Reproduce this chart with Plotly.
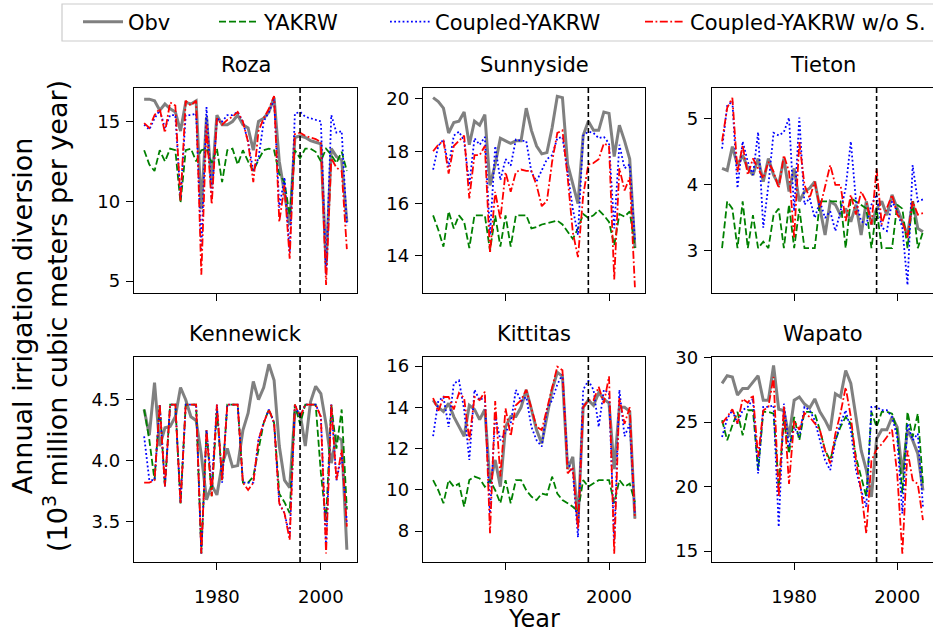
import plotly.graph_objects as go

# ---------------- data ----------------
YEARS = list(range(1966, 2006))
SPLIT_YEAR = 1996
SERIES_NAMES = ["Obv", "YAKRW", "Coupled-YAKRW", "Coupled-YAKRW w/o S."]
PANEL_NAMES = ["Roza", "Sunnyside", "Tieton", "Kennewick", "Kittitas", "Wapato"]

roza_obv = [16.4,16.4,16.3,15.7,16.1,15.8,15.6,14.4,16.2,16.1,16.3,9.5,15.3,11.0,15.4,14.8,14.8,15.0,15.4,14.8,
            14.6,13.2,15.0,15.2,15.6,16.5,12.5,10.5,8.5,14.0,14.1,14.0,13.8,13.7,13.6,6.0,13.3,12.8,12.6,8.7]
roza_yakrw = [13.2,12.3,11.9,13.2,12.5,13.3,13.2,9.9,13.2,13.3,12.5,13.2,13.3,12.4,13.3,11.2,13.2,13.3,12.3,13.2,
              12.5,11.9,12.6,13.2,13.3,13.2,11.7,11.2,9.1,13.2,12.7,13.3,13.3,13.1,12.5,13.3,12.9,12.4,13.1,11.9]
roza_coupled = [14.8,14.5,15.2,15.7,14.6,15.4,15.4,10.2,15.4,15.4,15.5,7.0,15.9,10.2,15.2,15.0,15.4,15.4,15.6,15.0,
                13.7,11.9,12.7,15.0,15.6,16.4,9.6,11.5,6.8,15.5,15.6,15.3,15.2,15.1,15.0,5.4,15.4,14.3,14.4,8.5]
roza_wos = [14.9,14.6,15.4,15.8,14.3,16.2,16.0,10.0,16.3,16.0,16.3,5.4,14.8,9.8,15.2,14.8,15.1,15.3,15.6,15.0,
            13.7,11.2,14.4,15.2,15.8,16.6,8.7,11.0,6.4,14.2,14.3,14.1,14.0,13.9,13.7,4.75,12.7,12.1,11.9,7.0]

sunny_obv = [20.05,19.9,19.65,18.7,19.1,19.15,19.5,18.25,19.15,19.0,19.4,16.7,17.5,18.5,18.4,18.3,18.4,18.4,19.65,18.8,
             18.2,17.9,17.95,18.9,20.1,20.05,17.5,16.8,16.0,18.6,19.15,18.8,18.8,19.5,19.45,17.8,19.0,18.4,17.7,14.3]
sunny_yakrw = [15.55,15.0,14.35,15.7,15.05,15.55,15.3,14.3,15.55,15.55,15.55,14.2,15.55,14.35,15.55,14.35,15.55,15.55,15.55,15.05,
               15.1,15.2,15.25,15.3,15.35,15.2,14.9,14.65,15.05,15.6,15.45,15.55,15.75,15.55,15.3,14.4,15.6,15.5,15.7,14.3]
sunny_coupled = [17.3,18.2,18.45,17.4,18.6,18.75,18.4,16.7,18.5,18.25,18.55,14.8,18.2,16.9,17.7,17.45,18.45,18.4,18.4,17.2,
                 16.85,17.3,17.7,17.85,18.5,18.55,17.2,15.8,14.8,18.6,18.75,18.7,18.5,18.55,18.3,15.05,18.25,17.35,17.5,14.6]
sunny_wos = [18.0,18.25,18.4,17.15,18.2,18.4,18.6,16.2,17.85,17.85,18.2,14.1,16.45,15.4,17.2,16.45,17.2,17.3,17.25,17.25,
             16.7,15.9,16.1,17.6,18.7,18.8,17.0,14.9,13.95,16.3,17.5,17.55,17.7,18.3,18.2,13.1,17.35,16.5,17.0,12.8]

tieton_obv = [4.25,4.22,4.58,4.3,4.45,4.25,4.15,4.4,4.05,4.4,4.15,4.0,4.4,3.9,4.25,3.75,3.9,3.95,4.05,3.64,
              3.24,3.75,3.7,3.54,3.64,3.44,3.7,3.24,3.75,3.4,3.64,3.75,3.54,3.85,3.64,3.44,3.24,3.75,3.34,3.29]
tieton_yakrw = [3.04,3.75,3.64,3.04,3.75,3.04,3.54,3.04,3.14,3.04,3.54,3.64,3.04,3.7,3.04,3.64,3.04,3.04,3.04,3.75,
                3.75,3.75,3.75,3.75,3.04,3.8,3.75,3.7,3.64,3.04,3.64,3.04,3.04,3.04,3.7,3.64,3.04,3.75,3.04,3.29]
tieton_coupled = [4.55,5.2,5.27,3.95,4.66,4.35,4.15,4.8,3.35,4.0,4.79,4.75,4.8,5.02,3.6,5.02,3.7,3.8,3.5,3.75,
                  3.5,3.6,3.3,3.6,3.95,4.66,3.75,3.45,3.4,3.7,3.85,3.35,3.3,3.75,3.6,3.35,2.48,4.3,3.75,3.78]
tieton_wos = [4.66,5.17,5.32,4.2,4.6,4.15,4.4,4.25,4.1,4.35,4.2,3.95,4.45,4.2,3.2,4.65,4.0,3.8,4.05,3.65,
              4.0,4.3,4.0,4.0,3.45,3.85,3.55,3.9,3.75,3.4,4.25,3.4,3.65,3.85,3.55,3.45,3.2,3.75,3.55,3.57]

kenne_obv = [4.42,4.21,4.64,4.12,4.27,4.28,4.36,4.6,4.5,4.36,4.33,4.05,3.68,3.8,3.72,3.97,4.1,3.95,3.96,4.25,
             4.39,4.65,4.5,4.6,4.79,4.66,4.12,3.84,3.78,4.4,4.39,4.12,4.48,4.61,4.55,4.3,3.98,4.2,4.17,3.27]
kenne_yakrw = [4.42,4.17,3.84,4.46,3.79,4.46,4.46,3.65,4.46,4.46,4.46,3.24,4.25,3.71,4.42,3.84,4.46,4.46,4.46,3.82,
               3.82,3.87,4.1,4.31,4.42,4.31,3.73,3.66,3.57,4.46,4.3,4.46,4.46,4.46,3.9,3.5,4.46,4.1,4.42,3.6]
kenne_coupled = [4.2,3.84,3.84,4.46,3.79,4.46,4.46,3.65,4.46,4.46,4.46,3.24,4.25,3.79,4.46,3.82,4.46,4.46,4.46,3.82,
                 3.82,3.82,4.17,4.31,4.42,4.31,3.65,3.57,3.38,4.46,4.36,4.46,4.46,4.46,4.36,3.3,4.46,3.84,4.05,3.5]
kenne_wos = [3.82,3.82,3.84,4.46,3.79,4.46,4.46,3.65,4.46,4.46,4.46,3.24,4.25,3.71,4.46,3.84,4.46,4.46,4.46,3.82,
             3.76,3.82,4.17,4.31,4.42,4.31,3.65,3.57,3.35,4.46,4.36,4.46,4.46,4.46,4.36,3.24,4.46,3.84,4.09,3.46]

kitt_obv = [14.35,14.0,13.8,14.2,13.55,13.05,12.6,14.1,13.9,13.4,13.9,10.3,11.45,10.15,13.05,13.55,13.55,14.0,14.85,13.9,
            12.9,12.25,13.55,14.85,15.7,15.5,11.0,11.6,8.4,14.0,14.35,14.1,14.7,14.4,14.2,11.0,14.0,14.0,13.8,8.6]
kitt_yakrw = [10.47,9.98,9.35,10.47,10.15,10.3,9.18,10.47,10.64,10.55,10.15,10.47,9.98,9.35,10.47,9.35,10.47,10.47,9.98,9.67,
              9.5,9.82,9.75,10.64,9.82,9.5,9.35,9.18,8.95,10.47,10.15,10.3,10.47,10.47,10.47,9.35,10.47,10.15,10.3,9.4]
kitt_coupled = [12.6,14.3,14.5,13.05,15.15,15.3,13.9,11.45,14.85,14.35,14.5,8.85,13.6,12.4,12.8,13.2,14.85,14.3,14.5,13.05,
                12.4,12.1,13.9,14.35,15.1,15.6,11.3,10.9,7.7,14.85,15.3,14.85,13.05,14.85,14.7,7.55,14.85,12.6,13.2,8.8]
kitt_wos = [14.45,13.8,14.5,14.5,13.9,14.7,14.45,12.4,14.5,14.35,14.75,7.9,14.3,10.65,13.95,12.6,14.1,14.35,14.85,14.0,
            13.05,12.9,13.9,15.0,15.97,15.8,10.8,11.1,8.1,14.0,14.35,14.35,15.0,14.2,15.5,6.9,14.45,13.2,14.0,8.6]

wap_obv = [28.0,28.6,28.5,27.1,27.6,27.6,28.1,28.6,26.7,26.7,29.4,26.0,25.9,23.85,26.7,26.95,26.4,26.1,26.8,25.8,
           25.15,24.35,27.2,26.95,29.0,28.0,25.4,22.8,21.3,19.2,23.7,24.4,24.4,25.4,24.6,21.0,24.4,23.6,22.55,19.7]
wap_yakrw = [25.14,23.59,24.75,25.79,23.98,25.92,25.92,21.27,25.79,25.79,25.66,19.97,25.14,22.56,25.40,23.59,25.79,25.79,25.66,24.37,
             22.82,22.04,23.59,24.63,25.40,24.88,22.30,20.75,19.20,25.79,24.63,25.79,25.79,25.66,24.37,19.46,25.79,23.85,25.66,20.23]
wap_coupled = [23.85,25.27,25.92,24.88,25.92,26.18,26.82,21.01,26.18,26.18,26.30,16.87,26.43,23.07,24.63,23.85,26.18,25.92,25.14,23.59,
               22.04,21.27,23.59,24.88,25.92,24.37,21.27,19.72,18.42,26.18,26.18,25.92,25.92,25.40,23.85,17.91,24.88,23.59,24.11,18.42]
wap_wos = [24.9,25.4,26.0,24.9,26.8,26.5,27.1,22.3,25.9,26.2,28.5,19.2,26.2,20.2,25.1,24.4,25.7,25.4,24.9,24.4,
           22.8,21.8,24.1,25.7,27.7,25.4,22.0,19.7,16.35,22.0,22.9,23.3,23.85,24.4,21.0,14.8,22.8,20.5,20.2,17.4]

X_TICKS = [1980, 2000]
Y_TICKS = [[5, 10, 15], [14, 16, 18, 20], [3, 4, 5], [3.5, 4.0, 4.5], [8, 10, 12, 14, 16], [15, 20, 25, 30]]
Y_RANGES = [[4.25, 17.1], [12.58, 20.42], [2.36, 5.47], [3.17, 4.85], [6.5, 16.44], [14.15, 30.05]]
X_RANGE = [1964.05, 2006.95]

PANEL_DATA = [
    [roza_obv, roza_yakrw, roza_coupled, roza_wos],
    [sunny_obv, sunny_yakrw, sunny_coupled, sunny_wos],
    [tieton_obv, tieton_yakrw, tieton_coupled, tieton_wos],
    [kenne_obv, kenne_yakrw, kenne_coupled, kenne_wos],
    [kitt_obv, kitt_yakrw, kitt_coupled, kitt_wos],
    [wap_obv, wap_yakrw, wap_coupled, wap_wos],
]

# ---------------- styling / layout ----------------
W, H = 933, 635
FONT = "DejaVu Sans"
STYLES = [
    dict(color="#808080", width=3.0, dash="solid"),
    dict(color="#008000", width=1.8, dash="7px,3px"),
    dict(color="#0000ff", width=1.8, dash="1.8px,2.4px"),
    dict(color="#ff0000", width=1.8, dash="8px,2.5px,1.8px,2.5px"),
]
XDOM = [(134 / W, 357 / W), (423 / W, 645 / W), (712 / W, 1.0)]
YDOM = [(1 - 293 / H, 1 - 88 / H), (1 - 562 / H, 1 - 357 / H)]
LEGEND_TEXT_X = [127, 263, 434, 689]
LEGEND_KEYS = ["legend", "legend2", "legend3", "legend4"]

fig = go.Figure()
layout = dict(
    width=W, height=H,
    margin=dict(l=0, r=0, t=0, b=0, autoexpand=False),
    paper_bgcolor="white", plot_bgcolor="white",
    font=dict(family=FONT, size=18, color="black"),
    annotations=[], shapes=[],
)

for k, (name, series) in enumerate(zip(PANEL_NAMES, PANEL_DATA)):
    row, col = divmod(k, 3)
    ax = "" if k == 0 else str(k + 1)
    for s, (sname, vals) in enumerate(zip(SERIES_NAMES, series)):
        fig.add_trace(go.Scatter(
            x=YEARS, y=vals, mode="lines", name=sname,
            line=STYLES[s], xaxis="x" + ax, yaxis="y" + ax,
            showlegend=(k == 0), legend=LEGEND_KEYS[s],
        ))
    common = dict(
        showline=True, linecolor="black", linewidth=1.3, mirror=True,
        ticks="outside", tickwidth=1.3, tickcolor="black",
        showgrid=False, zeroline=False, tickfont=dict(size=18, family=FONT),
    )
    layout["xaxis" + ax] = dict(
        domain=list(XDOM[col]), anchor="y" + ax, range=X_RANGE, ticklen=7,
        tickvals=X_TICKS, showticklabels=(row == 1), ticklabelstandoff=11, **common)
    layout["yaxis" + ax] = dict(
        domain=list(YDOM[row]), anchor="x" + ax, range=Y_RANGES[k], ticklen=7,
        tickvals=Y_TICKS[k], tickformat=".1f" if k == 3 else "", ticklabelstandoff=2, **common)
    layout["annotations"].append(dict(
        text=name, xref="paper", yref="paper",
        x=(XDOM[col][0] + XDOM[col][1]) / 2, y=YDOM[row][1],
        xanchor="center", yanchor="bottom", yshift=9, showarrow=False,
        font=dict(size=21, family=FONT)))
    layout["shapes"].append(dict(
        type="line", xref="x" + ax, yref="y" + ax + " domain",
        x0=SPLIT_YEAR, x1=SPLIT_YEAR, y0=0, y1=1,
        line=dict(color="black", width=1.6, dash="5px,3px")))

# legends (one per entry so spacing follows the reference)
for key, tx in zip(LEGEND_KEYS, LEGEND_TEXT_X):
    layout[key] = dict(
        x=(tx - 49) / W, y=1 - 22 / H, xanchor="left", yanchor="middle",
        orientation="h", bgcolor="rgba(0,0,0,0)", borderwidth=0,
        font=dict(size=21, family=FONT), itemwidth=40,
    )
layout["shapes"].append(dict(
    type="rect", xref="paper", yref="paper",
    x0=62 / W, x1=1.01, y0=1 - 41 / H, y1=1 - 4 / H,
    line=dict(color="#cccccc", width=1.2), fillcolor="rgba(0,0,0,0)", layer="below"))

layout["annotations"].append(dict(
    text="Year", xref="paper", yref="paper", x=534 / W, y=1 - 619 / H,
    xanchor="center", yanchor="middle", showarrow=False, font=dict(size=24, family=FONT)))
layout["annotations"].append(dict(
    text="Annual irrigation diversion<br>(10<sup>3</sup> million cubic meters per year)",
    xref="paper", yref="paper", x=40 / W, y=1 - 316 / H, textangle=-90,
    xanchor="center", yanchor="middle", showarrow=False, font=dict(size=27, family=FONT)))

fig.update_layout(**layout)
fig.write_html("out.html")
